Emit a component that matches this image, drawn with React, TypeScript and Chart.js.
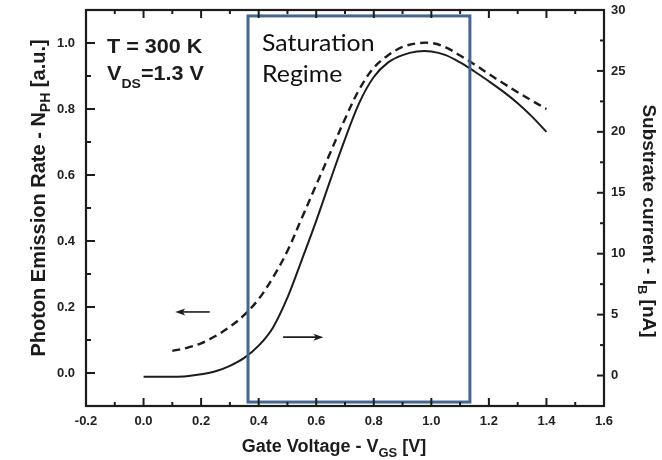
import React, { useEffect, useRef } from 'react';
import { Chart, registerables } from 'chart.js';

Chart.register(...registerables);

// ---- data ----
const vgsSolid = [0.0, 0.05, 0.1, 0.15, 0.2, 0.25, 0.3, 0.35, 0.4, 0.45, 0.5, 0.55, 0.6, 0.65, 0.7, 0.75, 0.8, 0.85, 0.9, 0.95, 1.0, 1.05, 1.1, 1.15, 1.2, 1.25, 1.3, 1.35, 1.4];
const substrateCurrent = [-0.1, -0.1, -0.1, -0.05, 0.1, 0.35, 0.8, 1.45, 2.45, 3.95, 6.4, 9.5, 12.7, 16.1, 19.4, 22.4, 24.5, 25.7, 26.3, 26.6, 26.6, 26.3, 25.7, 24.95, 24.15, 23.3, 22.35, 21.25, 20.0];

const vgsDashed = [0.1, 0.15, 0.2, 0.25, 0.3, 0.35, 0.4, 0.45, 0.5, 0.55, 0.6, 0.65, 0.7, 0.75, 0.8, 0.85, 0.9, 0.95, 1.0, 1.05, 1.1, 1.15, 1.2, 1.25, 1.3, 1.35, 1.4];
const photonRate = [0.067, 0.076, 0.09, 0.112, 0.14, 0.176, 0.224, 0.29, 0.37, 0.47, 0.57, 0.67, 0.77, 0.86, 0.925, 0.963, 0.988, 0.999, 1.0, 0.987, 0.962, 0.935, 0.906, 0.878, 0.851, 0.825, 0.8];

const xTicks = [-0.2, 0.0, 0.2, 0.4, 0.6, 0.8, 1.0, 1.2, 1.4, 1.6];
const xMinorTicks = [-0.1, 0.1, 0.3, 0.5, 0.7, 0.9, 1.1, 1.3, 1.5];
const leftTicks = [0.0, 0.2, 0.4, 0.6, 0.8, 1.0];
const leftMinorTicks = [0.1, 0.3, 0.5, 0.7, 0.9];
const rightTicks = [0, 5, 10, 15, 20, 25, 30];
const rightMinorTicks = [2.5, 7.5, 12.5, 17.5, 22.5, 27.5];

// saturation regime box (Vgs range, left-axis range)
const boxVgs = [0.363, 1.134];
const boxN = [-0.088, 1.082];
// arrows: [vgsFrom, vgsTo, level]
const leftArrow = [0.23, 0.11, 0.185]; // on left axis
const rightArrow = [0.485, 0.625, 3.15]; // on right axis

const xTitle = ['Gate Voltage - V', 'GS', ' [V]'];
const leftTitle = ['Photon Emission Rate - N', 'PH', ' [a.u.]'];
const rightTitle = ['Substrate current - I', 'B', ' [nA]'];
const tempLabel = 'T = 300 K';
const vdsLabel = ['V', 'DS', '=1.3 V'];
const regimeLabel = ['Saturation', 'Regime'];

const FONT = '"Liberation Sans", Arial, Helvetica, sans-serif';
const INK = '#1c1c1c';
const BOX_BLUE = '#44668f';

type Part = { t: string; size: number; dy: number };

function drawRich(ctx: CanvasRenderingContext2D, parts: Part[], x: number, y: number, center: boolean, stretch = 1) {
  const widths = parts.map((p) => {
    ctx.font = `bold ${p.size}px ${FONT}`;
    return ctx.measureText(p.t).width;
  });
  const total = widths.reduce((a, b) => a + b, 0);
  ctx.save();
  ctx.translate(x, y);
  ctx.scale(stretch, 1);
  let cx = center ? -total / 2 : 0;
  ctx.textAlign = 'left';
  ctx.textBaseline = 'alphabetic';
  parts.forEach((p, i) => {
    ctx.font = `bold ${p.size}px ${FONT}`;
    ctx.fillText(p.t, cx, p.dy);
    cx += widths[i];
  });
  ctx.restore();
}

function titleParts(t: string[], size: number, sub: number, dy: number): Part[] {
  return [
    { t: t[0], size, dy: 0 },
    { t: t[1], size: sub, dy },
    { t: t[2], size, dy: 0 },
  ];
}

const decorPlugin = {
  id: 'decor',
  afterDatasetsDraw(chart: any) {
    const { ctx, chartArea: a, scales } = chart;
    const sx = scales.x;
    const syl = scales.y;
    const syr = scales.y1;
    ctx.save();

    // blue saturation box
    ctx.strokeStyle = BOX_BLUE;
    ctx.lineWidth = 3;
    const bx0 = sx.getPixelForValue(boxVgs[0]);
    const bx1 = sx.getPixelForValue(boxVgs[1]);
    const by0 = syl.getPixelForValue(boxN[1]);
    const by1 = syl.getPixelForValue(boxN[0]);
    ctx.strokeRect(bx0, by0, bx1 - bx0, by1 - by0);

    // frame
    ctx.strokeStyle = INK;
    ctx.lineWidth = 2.2;
    ctx.strokeRect(a.left, a.top, a.right - a.left, a.bottom - a.top);

    // inward ticks
    const seg = (x0: number, y0: number, x1: number, y1: number) => {
      ctx.beginPath();
      ctx.moveTo(x0, y0);
      ctx.lineTo(x1, y1);
      ctx.stroke();
    };
    ctx.lineWidth = 2;
    xTicks.forEach((v) => {
      const p = sx.getPixelForValue(v);
      seg(p, a.bottom, p, a.bottom - 8);
      seg(p, a.top, p, a.top + 8);
    });
    xMinorTicks.forEach((v) => {
      const p = sx.getPixelForValue(v);
      seg(p, a.bottom, p, a.bottom - 4);
      seg(p, a.top, p, a.top + 4);
    });
    leftTicks.forEach((v) => {
      const p = syl.getPixelForValue(v);
      seg(a.left, p, a.left + 9, p);
    });
    leftMinorTicks.forEach((v) => {
      const p = syl.getPixelForValue(v);
      seg(a.left, p, a.left + 5, p);
    });
    rightTicks.forEach((v) => {
      const p = syr.getPixelForValue(v);
      seg(a.right, p, a.right - 7, p);
    });
    rightMinorTicks.forEach((v) => {
      const p = syr.getPixelForValue(v);
      seg(a.right, p, a.right - 4, p);
    });

    // arrows
    const arrow = (x0: number, x1: number, y: number) => {
      const dir = Math.sign(x1 - x0);
      const head = 10;
      ctx.lineWidth = 1.6;
      seg(x0, y, x1 - dir * head * 0.6, y);
      ctx.beginPath();
      ctx.moveTo(x1, y);
      ctx.lineTo(x1 - dir * head, y - 3.5);
      ctx.lineTo(x1 - dir * head * 0.75, y);
      ctx.lineTo(x1 - dir * head, y + 3.5);
      ctx.closePath();
      ctx.fillStyle = INK;
      ctx.fill();
    };
    arrow(sx.getPixelForValue(leftArrow[0]), sx.getPixelForValue(leftArrow[1]), syl.getPixelForValue(leftArrow[2]));
    arrow(sx.getPixelForValue(rightArrow[0]), sx.getPixelForValue(rightArrow[1]), syr.getPixelForValue(rightArrow[2]));

    // annotation texts
    ctx.fillStyle = INK;
    drawRich(ctx, [{ t: tempLabel, size: 20, dy: 0 }], a.left + 21, a.top + 43, false, 1.08);
    drawRich(
      ctx,
      [
        { t: vdsLabel[0], size: 20, dy: 0 },
        { t: vdsLabel[1], size: 13, dy: 8 },
        { t: vdsLabel[2], size: 20, dy: 0 },
      ],
      a.left + 21,
      a.top + 70,
      false,
      1.08
    );

    ctx.save();
    ctx.fillStyle = '#111';
    ctx.font = `23px Lato, "Open Sans", sans-serif`;
    ctx.textAlign = 'left';
    ctx.textBaseline = 'alphabetic';
    ctx.translate(bx0 + 14, a.top + 41);
    ctx.scale(1.08, 1);
    ctx.fillText(regimeLabel[0], 0, 0);
    ctx.fillText(regimeLabel[1], 0, 31);
    ctx.restore();

    // axis titles
    ctx.fillStyle = INK;
    drawRich(ctx, titleParts(xTitle, 18, 13, 5), 334, 452, true);

    ctx.save();
    ctx.translate(45, 198);
    ctx.rotate(-Math.PI / 2);
    drawRich(ctx, titleParts(leftTitle, 20, 14, 5), 0, 0, true);
    ctx.restore();

    ctx.save();
    ctx.translate(643, 221);
    ctx.rotate(Math.PI / 2);
    drawRich(ctx, titleParts(rightTitle, 19, 13, 5), 0, 0, true);
    ctx.restore();

    ctx.restore();
  },
};

const tickFont = { family: FONT, size: 13, weight: 'bold' as const };

const zeroPad = (s: any) => {
  s.paddingTop = 0;
  s.paddingBottom = 0;
  s.paddingLeft = 0;
  s.paddingRight = 0;
};

export default function App() {
  const ref = useRef<HTMLCanvasElement | null>(null);

  useEffect(() => {
    if (!ref.current) return;
    const chart = new Chart(ref.current, {
      type: 'line',
      data: {
        datasets: [
          {
            label: 'Substrate current',
            data: vgsSolid.map((v, i) => ({ x: v, y: substrateCurrent[i] })),
            yAxisID: 'y1',
            borderColor: INK,
            borderWidth: 2,
            pointRadius: 0,
            tension: 0.35,
            fill: false,
          },
          {
            label: 'Photon emission rate',
            data: vgsDashed.map((v, i) => ({ x: v, y: photonRate[i] })),
            yAxisID: 'y',
            borderColor: INK,
            borderWidth: 2.4,
            borderDash: [8, 5],
            pointRadius: 0,
            tension: 0.35,
            fill: false,
          },
        ],
      },
      options: {
        responsive: true,
        maintainAspectRatio: false,
        animation: false,
        layout: { padding: { top: 10, left: 0, right: 0, bottom: 0 } },
        plugins: { legend: { display: false }, tooltip: { enabled: false } },
        scales: {
          x: {
            type: 'linear',
            min: -0.2,
            max: 1.6,
            afterBuildTicks: (s: any) => {
              s.ticks = xTicks.map((v) => ({ value: v }));
            },
            afterFit: (s: any) => {
              s.height = 54;
              zeroPad(s);
            },
            grid: { display: false, drawTicks: false },
            border: { display: false },
            ticks: {
              autoSkip: false,
              maxRotation: 0,
              padding: 8,
              color: '#222',
              font: tickFont,
              callback: (v: any) => Number(v).toFixed(1),
            },
          },
          y: {
            type: 'linear',
            position: 'left',
            min: -0.1,
            max: 1.1,
            afterBuildTicks: (s: any) => {
              s.ticks = leftTicks.map((v) => ({ value: v }));
            },
            afterFit: (s: any) => {
              s.width = 86;
              zeroPad(s);
            },
            grid: { display: false, drawTicks: false },
            border: { display: false },
            ticks: {
              autoSkip: false,
              padding: 11,
              color: '#222',
              font: tickFont,
              callback: (v: any) => Number(v).toFixed(1),
            },
          },
          y1: {
            type: 'linear',
            position: 'right',
            min: -2.5,
            max: 30,
            afterBuildTicks: (s: any) => {
              s.ticks = rightTicks.map((v) => ({ value: v }));
            },
            afterFit: (s: any) => {
              s.width = 58;
              zeroPad(s);
            },
            grid: { display: false, drawTicks: false },
            border: { display: false },
            ticks: {
              autoSkip: false,
              padding: 7,
              color: '#222',
              font: tickFont,
              callback: (v: any) => String(v),
            },
          },
        },
      },
      plugins: [decorPlugin],
    });
    return () => chart.destroy();
  }, []);

  return (
    <div style={{ position: 'fixed', left: 0, top: 0, width: 662, height: 460, background: '#fff' }}>
      <canvas ref={ref} />
    </div>
  );
}
